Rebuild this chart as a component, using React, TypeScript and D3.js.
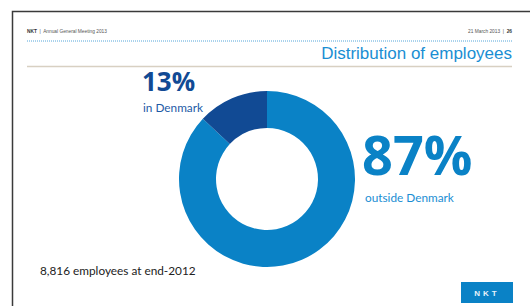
import { useEffect, useRef } from 'react';
import * as d3 from 'd3';

const shares = [
  { label: 'outside Denmark', value: 87, color: '#0a82c6' },
  { label: 'in Denmark', value: 13, color: '#114a94' },
];
const headerLeft = 'Annual General Meeting 2013';
const headerRight = '21 March 2013';
const pageNo = '26';
const title = 'Distribution of employees';
const footnote = '8,816 employees at end-2012';

export default function App() {
  const ref = useRef<SVGSVGElement>(null);

  useEffect(() => {
    const width = 530;
    const height = 306;
    const svg = d3.select(ref.current);
    svg.selectAll('*').remove();
    svg.attr('width', width).attr('height', height);

    svg.append('rect').attr('width', width).attr('height', height).attr('fill', '#fff');

    // slide frame
    svg.append('path')
      .attr('d', `M12.5,${height} V11.5 H${width}`)
      .attr('fill', 'none')
      .attr('stroke', '#3a3a3a')
      .attr('stroke-width', 1.5);

    const sans = 'Liberation Sans, Arial, sans-serif';
    const body = 'Lato, Open Sans, sans-serif';
    const bold = 'Open Sans, Lato, sans-serif';

    // header
    const hl = svg.append('text')
      .attr('x', 27).attr('y', 33)
      .attr('font-family', sans).attr('font-size', 4.8).attr('fill', '#555')
      .attr('xml:space', 'preserve');
    hl.append('tspan').attr('font-weight', 'bold').attr('fill', '#333').text('NKT');
    hl.append('tspan').text(`  |  ${headerLeft}`);

    const hr = svg.append('text')
      .attr('x', 512).attr('y', 33).attr('text-anchor', 'end')
      .attr('font-family', sans).attr('font-size', 4.8).attr('fill', '#555')
      .attr('xml:space', 'preserve');
    hr.append('tspan').text(`${headerRight}  |  `);
    hr.append('tspan').attr('font-weight', 'bold').attr('fill', '#333').text(pageNo);

    svg.append('line')
      .attr('x1', 27).attr('x2', 512).attr('y1', 41).attr('y2', 41)
      .attr('stroke', '#2a8fd0').attr('stroke-width', 0.8).attr('stroke-dasharray', '1,1');

    svg.append('text')
      .attr('x', 512).attr('y', 59).attr('text-anchor', 'end')
      .attr('font-family', sans).attr('font-size', 17).attr('fill', '#1a8ed3')
      .text(title);

    svg.append('line')
      .attr('x1', 27).attr('x2', 512).attr('y1', 66.5).attr('y2', 66.5)
      .attr('stroke', '#d8d0c2').attr('stroke-width', 1.5);

    // donut
    const cx = 267;
    const cy = 179;
    const pie = d3.pie<{ label: string; value: number; color: string }>()
      .sort(null)
      .value((d) => d.value);
    const arc = d3.arc<d3.PieArcDatum<{ label: string; value: number; color: string }>>()
      .innerRadius(51)
      .outerRadius(88);
    svg.append('g')
      .attr('transform', `translate(${cx},${cy})`)
      .selectAll('path')
      .data(pie(shares))
      .join('path')
      .attr('d', arc)
      .attr('fill', (d) => d.data.color);

    // labels
    const dk = shares[1];
    const out = shares[0];
    svg.append('text')
      .attr('x', 142).attr('y', 91)
      .attr('font-family', bold).attr('font-weight', 'bold')
      .attr('font-size', 26).attr('fill', dk.color)
      .text(`${dk.value}%`);
    svg.append('text')
      .attr('x', 143).attr('y', 112)
      .attr('font-family', body).attr('font-size', 11.8).attr('fill', '#1d5aa6')
      .text(dk.label);

    svg.append('text')
      .attr('x', 362).attr('y', 175)
      .attr('font-family', bold).attr('font-weight', 'bold')
      .attr('font-size', 54).attr('fill', out.color)
      .text(`${out.value}%`);
    svg.append('text')
      .attr('x', 365).attr('y', 202)
      .attr('font-family', body).attr('font-size', 11.8).attr('fill', '#1a8ed3')
      .text(out.label);

    svg.append('text')
      .attr('x', 40).attr('y', 275)
      .attr('font-family', body).attr('font-size', 11.8).attr('fill', '#222')
      .text(footnote);

    // logo
    svg.append('rect')
      .attr('x', 461).attr('y', 282).attr('width', 52).attr('height', 21)
      .attr('fill', '#0a82c6');
    svg.append('text')
      .attr('x', 487).attr('y', 296).attr('text-anchor', 'middle')
      .attr('font-family', sans).attr('font-weight', 'bold')
      .attr('font-size', 8).attr('letter-spacing', 3).attr('fill', '#e8f2fa')
      .text('NKT');
  }, []);

  return <svg ref={ref} style={{ position: 'absolute', left: 0, top: 0 }}></svg>;
}
